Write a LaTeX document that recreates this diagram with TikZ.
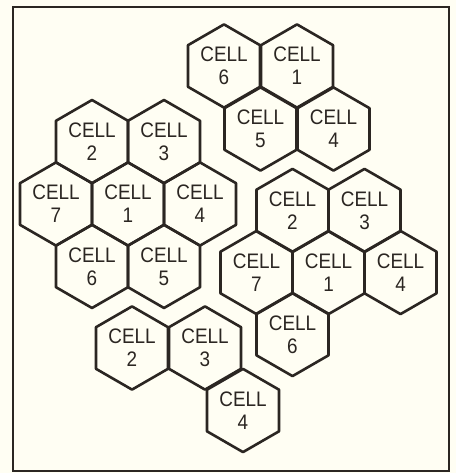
\documentclass[tikz,border=0pt]{standalone}
\usepackage{fontspec}
\setmainfont{Liberation Sans}
\newfontfamily\cellfont[FakeStretch=0.9]{Liberation Sans}
\usetikzlibrary{shapes.geometric}
\definecolor{ink}{HTML}{2B2622}
\definecolor{paper}{HTML}{FFFEF3}
\tikzset{
  cell/.style={regular polygon, regular polygon sides=6, shape border rotate=30,
    minimum size=83.2pt, inner sep=0pt, draw=ink, line width=2.6pt,
    line join=round, text=ink, align=center,
    font=\cellfont\fontsize{21}{23}\selectfont},
  frame/.style={draw=ink, line width=1.8pt}
}
\begin{document}
\begin{tikzpicture}[x=1pt,y=-1pt]
\useasboundingbox[fill=paper] (0,0) rectangle (456,473);
\draw[frame] (13,7) rectangle (449,471);
% top cluster
\node[cell] (t6) at (224,66) {CELL\\6};
\node[cell] (t1) at (297,66) {CELL\\1};
\node[cell] (t5) at (260.5,129) {CELL\\5};
\node[cell] (t4) at (333.5,129) {CELL\\4};
% left cluster
\node[cell] (l2) at (92,141.6) {CELL\\2};
\node[cell] (l3) at (164,141.6) {CELL\\3};
\node[cell] (l7) at (56,204) {CELL\\7};
\node[cell] (l1) at (128,204) {CELL\\1};
\node[cell] (l4) at (200,204) {CELL\\4};
\node[cell] (l6) at (92,266.4) {CELL\\6};
\node[cell] (l5) at (164,266.4) {CELL\\5};
% right cluster
\node[cell] (r2) at (292.5,210.5) {CELL\\2};
\node[cell] (r3) at (364.5,210.5) {CELL\\3};
\node[cell] (r7) at (256.5,272.5) {CELL\\7};
\node[cell] (r1) at (328.5,272.5) {CELL\\1};
\node[cell] (r4) at (400.5,272.5) {CELL\\4};
\node[cell] (r6) at (292.5,334.5) {CELL\\6};
% bottom cluster
\node[cell] (b2) at (132,348) {CELL\\2};
\node[cell] (b3) at (205,348) {CELL\\3};
\node[cell] (b4) at (243,410.5) {CELL\\4};
\end{tikzpicture}
\end{document}
